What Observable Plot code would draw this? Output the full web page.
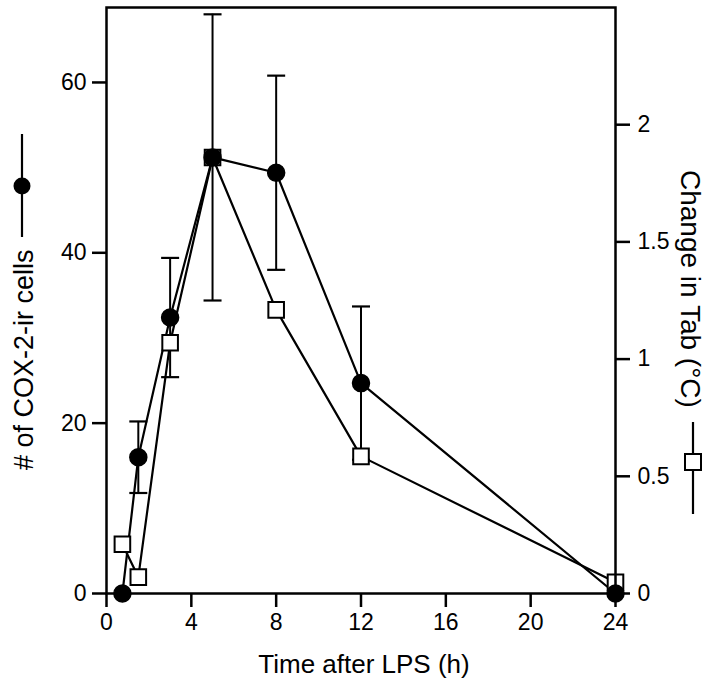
<!DOCTYPE html>
<html>
<head>
<meta charset="utf-8">
<script src="https://cdn.jsdelivr.net/npm/d3@7"></script>
<script src="https://cdn.jsdelivr.net/npm/@observablehq/plot@0.6"></script>
<style>
  html, body { margin: 0; padding: 0; background: #fff; }
  #chart { width: 720px; height: 690px; }
</style>
</head>
<body>
<div id="chart"></div>
<script>
// ---- data ----
const times = [0.75, 1.5, 3, 5, 8, 12, 24];
const coxCells = [0, 16, 32.4, 51.2, 49.4, 24.7, 0];          // # of COX-2-ir cells (left axis)
const coxErr = [null, 4.2, 7, 16.8, 11.4, 9, null];            // SEM
const tempChange = [0.21, 0.07, 1.07, 1.86, 1.21, 0.585, 0.048]; // change in Tab (°C) (right axis)
const xTicks = [0, 4, 8, 12, 16, 20, 24];
const leftTicks = [0, 20, 40, 60];
const rightTicks = [0, 0.5, 1, 1.5, 2];
const leftMax = 68.8, rightMax = 2.5;
const k = leftMax / rightMax;

const cox = times.map((t, i) => ({t, v: coxCells[i], e: coxErr[i]}));
const temp = times.map((t, i) => ({t, v: tempChange[i] * k}));
const errs = cox.filter(d => d.e != null);

const cap = { draw(ctx) { ctx.moveTo(-9, 0); ctx.lineTo(9, 0); } };

const font = "'Liberation Sans', Arial, Helvetica, sans-serif";

const plot = Plot.plot({
  width: 720,
  height: 690,
  marginLeft: 106,
  marginRight: 105,
  marginTop: 7,
  marginBottom: 97,
  style: { fontFamily: font, fontSize: "23px", color: "black", background: "white" },
  x: { domain: [0, 24] },
  y: { domain: [0, leftMax] },
  marks: [
    Plot.ruleX(errs, {x: "t", y1: d => d.v - d.e, y2: d => d.v + d.e, stroke: "black", strokeWidth: 2}),
    Plot.dot(errs, {x: "t", y: d => d.v + d.e, symbol: cap, stroke: "black", strokeWidth: 2.2}),
    Plot.dot(errs, {x: "t", y: d => d.v - d.e, symbol: cap, stroke: "black", strokeWidth: 2.2}),
    Plot.line(temp, {x: "t", y: "v", stroke: "black", strokeWidth: 2.2}),
    Plot.line(cox, {x: "t", y: "v", stroke: "black", strokeWidth: 2.2}),
    Plot.dot(temp, {x: "t", y: "v", symbol: "square", r: 8.8, fill: "white", stroke: "black", strokeWidth: 2}),
    Plot.dot(cox, {x: "t", y: "v", r: 8.5, fill: "black", stroke: "black"}),
    Plot.frame({stroke: "black", strokeWidth: 2.5}),
    Plot.axisX({ticks: xTicks, tickSize: 14, tickPadding: 6, strokeWidth: 2.5, label: null, fontSize: 23}),
    Plot.axisY({ticks: leftTicks, anchor: "left", tickSize: 14, tickPadding: 6, strokeWidth: 2.5, label: null, fontSize: 23}),
    Plot.axisY(rightTicks.map(v => v * k), {anchor: "right", tickSize: 14, tickPadding: 8, strokeWidth: 2.5, label: null, fontSize: 23,
      tickFormat: v => String(+(v / k).toFixed(2))})
  ]
});

document.getElementById("chart").appendChild(plot);

// axis titles with legend symbols
const svg = d3.select(plot);
const g = svg.append("g").attr("font-family", font).attr("fill", "black");

// x title
g.append("text").attr("x", 364).attr("y", 673).attr("text-anchor", "middle")
  .attr("font-size", 26).text("Time after LPS (h)");

// left title, rotated
g.append("text").attr("transform", "translate(33,470) rotate(-90)")
  .attr("text-anchor", "start").attr("font-size", 27).text("# of COX-2-ir cells");
g.append("line").attr("x1", 22).attr("x2", 22).attr("y1", 134).attr("y2", 237)
  .attr("stroke", "black").attr("stroke-width", 2.2);
g.append("circle").attr("cx", 22).attr("cy", 186).attr("r", 8.5).attr("fill", "black");

// right title, rotated clockwise
g.append("text").attr("transform", "translate(681,170) rotate(90)")
  .attr("text-anchor", "start").attr("font-size", 28).text("Change in Tab (°C)");
g.append("line").attr("x1", 693).attr("x2", 693).attr("y1", 422).attr("y2", 514)
  .attr("stroke", "black").attr("stroke-width", 2.2);
g.append("rect").attr("x", 685).attr("y", 454).attr("width", 16).attr("height", 16)
  .attr("fill", "white").attr("stroke", "black").attr("stroke-width", 2);
</script>
</body>
</html>
